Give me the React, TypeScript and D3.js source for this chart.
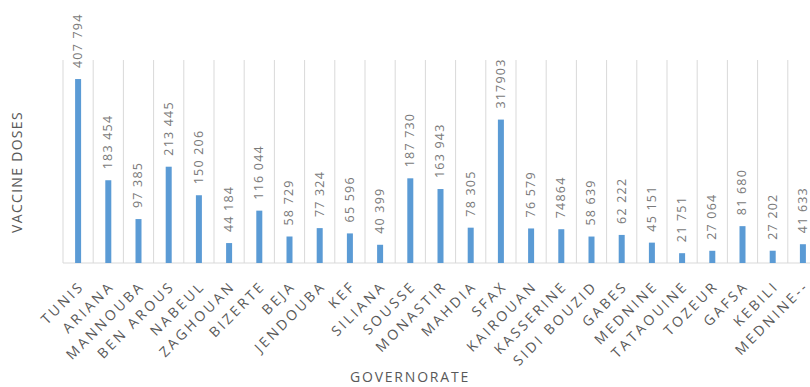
import React from "react";
import * as d3 from "d3";

// Vaccine doses administered per governorate
const governorates = [
  "TUNIS", "ARIANA", "MANNOUBA", "BEN AROUS", "NABEUL", "ZAGHOUAN", "BIZERTE",
  "BEJA", "JENDOUBA", "KEF", "SILIANA", "SOUSSE", "MONASTIR", "MAHDIA", "SFAX",
  "KAIROUAN", "KASSERINE", "SIDI BOUZID", "GABES", "MEDNINE", "TATAOUINE",
  "TOZEUR", "GAFSA", "KEBILI", "MEDNINE--",
];

const doses = [
  407794, 183454, 97385, 213445, 150206, 44184, 116044,
  58729, 77324, 65596, 40399, 187730, 163943, 78305, 317903,
  76579, 74864, 58639, 62222, 45151, 21751,
  27064, 81680, 27202, 41633,
];

// Labels printed without a thousands separator
const ungroupedLabels = ["SFAX", "KASSERINE"];

const yDomain = [0, 450000];

const W = 810;
const H = 387;
const left = 63;
const bandW = 30.2;
const top = 60;
const bottom = 263;

const spaced = d3.formatLocale({
  decimal: ".",
  thousands: " ",
  grouping: [3],
  currency: ["", ""],
}).format(",d");

export default function App() {
  const x = d3
    .scaleBand<string>()
    .domain(governorates)
    .range([left, left + bandW * governorates.length])
    .paddingInner(0)
    .paddingOuter(0);
  const y = d3.scaleLinear().domain(yDomain).range([bottom, top]);
  const barW = 6;
  const textColor = "#595959";
  const font = "'Open Sans', 'Noto Sans', sans-serif";

  const boundaries = d3.range(governorates.length + 1).map((i) => left + i * x.bandwidth());

  return (
    <svg
      width={W}
      height={H}
      style={{ position: "absolute", left: 0, top: 0, background: "#fff" }}
      fontFamily={font}
    >
      {/* category separators */}
      {boundaries.map((bx, i) => (
        <line key={i} x1={bx} x2={bx} y1={top} y2={bottom} stroke="#d9d9d9" strokeWidth={1} />
      ))}
      <line x1={left} x2={left + bandW * governorates.length} y1={bottom} y2={bottom} stroke="#d9d9d9" strokeWidth={1} />

      {governorates.map((g, i) => {
        const cx = (x(g) as number) + x.bandwidth() / 2;
        const yv = y(doses[i]);
        const label = ungroupedLabels.includes(g) ? String(doses[i]) : spaced(doses[i]);
        return (
          <g key={g}>
            <rect x={cx - barW / 2} y={yv} width={barW} height={bottom - yv} fill="#5B9BD5" />
            <text
              transform={`translate(${cx - 0.5},${yv - 11}) rotate(-90)`}
              dy="0.35em"
              fontSize={12.5}
              letterSpacing={1.2}
              fill="#7a7a7a"
            >
              {label}
            </text>
            <text
              transform={`translate(${cx + 7},${bottom + 24}) rotate(-45)`}
              textAnchor="end"
              fontSize={14}
              letterSpacing={2.8}
              fill={textColor}
            >
              {g}
            </text>
          </g>
        );
      })}

      <text
        transform={`translate(22,172) rotate(-90)`}
        textAnchor="middle"
        fontSize={14}
        letterSpacing={1.3}
        fill={textColor}
      >
        VACCINE DOSES
      </text>
      <text x={410} y={382} textAnchor="middle" fontSize={14} letterSpacing={1.8} fill={textColor}>
        GOVERNORATE
      </text>
    </svg>
  );
}
